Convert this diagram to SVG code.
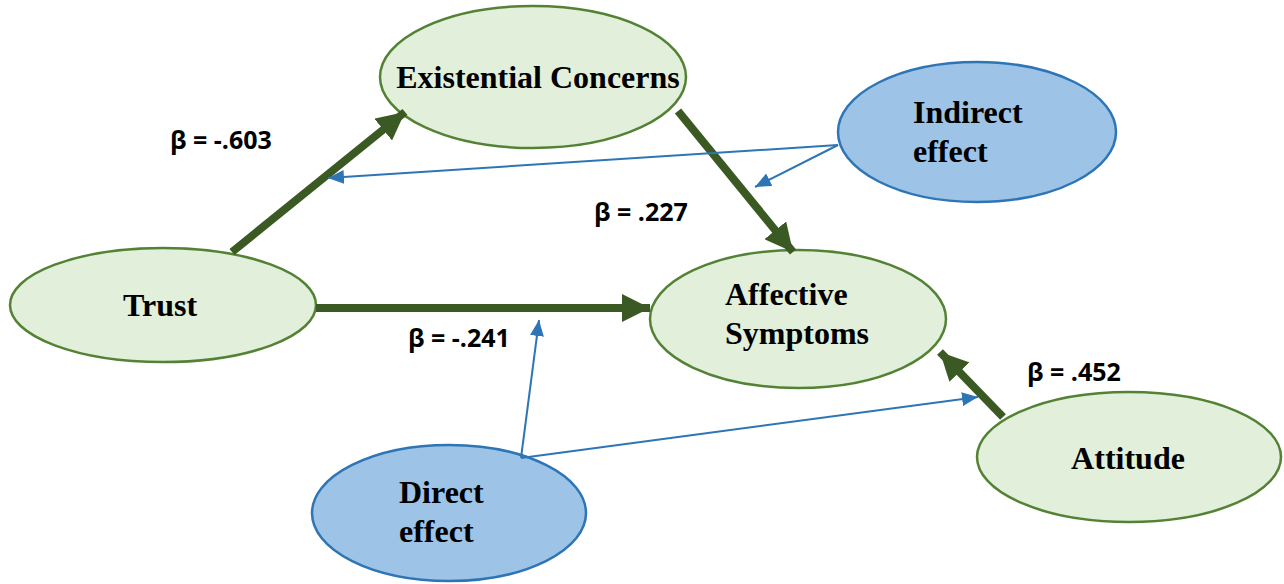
<svg xmlns="http://www.w3.org/2000/svg" width="1284" height="584" viewBox="0 0 1284 584">
<style>
.g{fill:#e2efda;stroke:#548235;stroke-width:2.5}
.b{fill:#9dc3e6;stroke:#2e75b6;stroke-width:2.5}
.t{font-family:"Liberation Serif",serif;font-weight:bold;font-size:32px;fill:#000}
.l{font-family:"Open Sans","Liberation Sans",sans-serif;font-weight:bold;font-size:25px;fill:#000}
.thick{stroke:#3b5a23;stroke-width:8;fill:none}
.thin{stroke:#2e75b6;stroke-width:2;fill:none}
</style>
<defs>
<marker id="ag" markerUnits="userSpaceOnUse" markerWidth="28" markerHeight="28" refX="24" refY="12" orient="auto" viewBox="0 0 24 24">
<path d="M0,0 L24,12 L0,24 Z" fill="#3b5a23"/>
</marker>
<marker id="ab" markerUnits="userSpaceOnUse" markerWidth="16" markerHeight="14" refX="16" refY="7" orient="auto" viewBox="0 0 16 14">
<path d="M0,0 L16,7 L0,14 Z" fill="#2e75b6"/>
</marker>
</defs>
<g id="n-existential"><ellipse class="g" cx="533" cy="77" rx="153" ry="71"/><text class="t" x="538" y="88" text-anchor="middle">Existential Concerns</text></g>
<g id="n-indirect"><ellipse class="b" cx="977" cy="132" rx="139" ry="70"/><text class="t" x="913" y="123">Indirect</text><text class="t" x="913" y="162">effect</text></g>
<g id="n-trust"><ellipse class="g" cx="163" cy="305" rx="153" ry="57"/><text class="t" x="160" y="316" text-anchor="middle">Trust</text></g>
<g id="n-affective"><ellipse class="g" cx="798" cy="319" rx="148" ry="69"/><text class="t" x="725" y="305">Affective</text><text class="t" x="725" y="344">Symptoms</text></g>
<g id="n-attitude"><ellipse class="g" cx="1129" cy="457" rx="152" ry="65"/><text class="t" x="1128" y="469" text-anchor="middle">Attitude</text></g>
<g id="n-direct"><ellipse class="b" cx="449" cy="513" rx="137" ry="68"/><text class="t" x="399" y="503">Direct</text><text class="t" x="399" y="542">effect</text></g>
<g id="connectors">
<line class="thick" x1="232" y1="252" x2="405" y2="112" marker-end="url(#ag)"/>
<line class="thick" x1="678" y1="111" x2="793" y2="252" marker-end="url(#ag)"/>
<line class="thick" x1="316" y1="308" x2="650" y2="308" marker-end="url(#ag)"/>
<line class="thick" x1="1003" y1="417" x2="940" y2="352" marker-end="url(#ag)"/>
<line class="thin" x1="838" y1="145" x2="328" y2="178" marker-end="url(#ab)"/>
<line class="thin" x1="838" y1="145" x2="755" y2="187" marker-end="url(#ab)"/>
<line class="thin" x1="521" y1="458" x2="539" y2="320" marker-end="url(#ab)"/>
<line class="thin" x1="521" y1="458" x2="978" y2="397" marker-end="url(#ab)"/>
</g>
<g id="labels">
<text class="l" x="170" y="149">β = -.603</text>
<text class="l" x="594" y="221">β = .227</text>
<text class="l" x="408" y="347">β = -.241</text>
<text class="l" x="1027" y="381">β = .452</text>
</g>
</svg>
